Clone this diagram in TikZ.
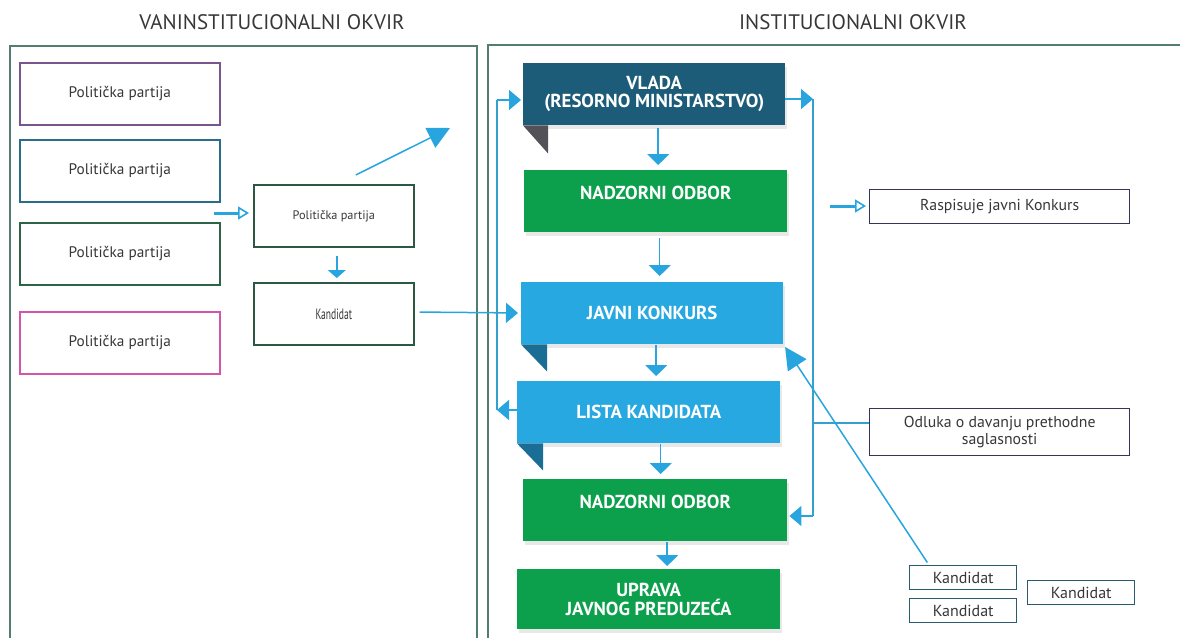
\documentclass[tikz,border=0pt]{standalone}
\usepackage{fontspec}
\setmainfont{PT Sans}
\usetikzlibrary{arrows.meta,shadows,calc}

\definecolor{frameC}{RGB}{82,126,110}
\definecolor{txtC}{RGB}{55,55,55}
\definecolor{purpleC}{RGB}{122,84,140}
\definecolor{tealC}{RGB}{42,108,140}
\definecolor{greenC}{RGB}{44,100,72}
\definecolor{magC}{RGB}{212,84,172}
\definecolor{midC}{RGB}{44,88,68}
\definecolor{arrowC}{RGB}{40,165,222}
\definecolor{lineC}{RGB}{52,160,204}
\definecolor{vladaC}{RGB}{28,92,120}
\definecolor{foldGray}{RGB}{82,82,88}
\definecolor{okGreen}{RGB}{12,160,76}
\definecolor{skyC}{RGB}{40,168,224}
\definecolor{foldBlue}{RGB}{26,110,150}
\definecolor{navyC}{RGB}{52,52,92}
\definecolor{candC}{RGB}{40,90,112}

\begin{document}
\begin{tikzpicture}[x=1pt,y=-1pt,
  frame/.style={draw=frameC,line width=1.5pt},
  heading/.style={text=txtC,font=\fontsize{21}{23}\selectfont,inner sep=0pt},
  party/.style={draw,line width=1.6pt,fill=white,minimum width=200pt,minimum height=62pt,
    anchor=north west,inner sep=0pt,text=txtC,font=\fontsize{15.3}{18}\selectfont},
  midbox/.style={draw=midC,line width=1.6pt,minimum width=160pt,minimum height=62pt,
    anchor=north west,inner sep=0pt,text=txtC},
  banner/.style={minimum width=262pt,minimum height=62pt,anchor=north west,inner sep=0pt,
    text=white,align=center,font=\bfseries\fontsize{18.8}{20}\selectfont,
    drop shadow={opacity=0.18,shadow xshift=1.5pt,shadow yshift=-4pt}},
  infobox/.style={draw=navyC,line width=1.4pt,minimum width=260pt,anchor=north west,
    inner sep=0pt,text=txtC,align=center,font=\fontsize{15.8}{19}\selectfont},
  candbox/.style={draw=candC,line width=1.4pt,minimum width=107pt,minimum height=24pt,
    anchor=north west,inner sep=0pt,text=txtC,font=\fontsize{16}{17}\selectfont},
  flowS/.style={draw=arrowC,line width=1.5pt,-{Triangle[width=22pt,length=11pt]}},
  flowL/.style={draw=arrowC,line width=1.5pt,-{Triangle[width=20pt,length=12pt]}},
  flowBig/.style={draw=arrowC,line width=1.5pt,-{Triangle[width=22pt,length=22pt]}},
  link/.style={draw=lineC,line width=1.3pt},
  hollow/.style={draw=arrowC,line width=3pt,
    -{Triangle[open,width=13pt,length=11pt,line width=1.6pt]}}
]
\useasboundingbox (0,0) rectangle (1180,637);

% headings and the two frames
\node[heading] (h1) at (272,22) {VANINSTITUCIONALNI OKVIR};
\node[heading] (h2) at (853,22) {INSTITUCIONALNI OKVIR};
\draw[frame] (10,660) -- (10,46) -- (477,46) -- (477,660);
\draw[frame] (488,660) -- (488,45) -- (1200,45);

% parties outside the institutions
\node[party,draw=purpleC] (p1) at (19,62)  {Politička partija};
\node[party,draw=tealC]   (p2) at (19,139) {Politička partija};
\node[party,draw=greenC]  (p3) at (19,222) {Politička partija};
\node[party,draw=magC]    (p4) at (19,311) {Politička partija};

\node[midbox,font=\fontsize{12.3}{15}\selectfont] (pp) at (253,184) {Politička partija};
\node[midbox,font=\fontsize{15}{17}\selectfont] (kand) at (253,282)
  {\addfontfeatures{FakeStretch=0.64}Kandidat};

\coordinate (inPP) at (214,213);
\coordinate (up) at (450,128);
\draw[hollow,shorten >=4pt] (inPP) -- (pp.west |- inPP);
\draw[flowBig] ($(pp.north)+(22,-9)$) -- (up);
\draw[draw=arrowC,line width=1.5pt,-{Triangle[width=18pt,length=8pt]},
  shorten <=8pt,shorten >=4pt] ([xshift=3pt]pp.south) -- ([xshift=3pt]kand.north);

% institutional chain
\node[banner,fill=vladaC] (vlada) at (523,63) {VLADA\\[-2pt](RESORNO MINISTARSTVO)};
\node[banner,fill=okGreen,minimum width=263pt,text depth=16pt] (no1) at (524,170) {NADZORNI ODBOR};
\node[banner,fill=skyC] (javni) at (521,282) {JAVNI KONKURS};
\node[banner,fill=skyC,minimum width=263pt] (lista) at (517,381) {LISTA KANDIDATA};
\node[banner,fill=okGreen,minimum width=264pt,text depth=16pt] (no2) at (523,479) {NADZORNI ODBOR};
\node[banner,fill=okGreen,minimum width=263pt,minimum height=60pt] (uprava) at (517,569)
  {UPRAVA\\[-1pt]JAVNOG PREDUZEĆA};

% folded corners under the banners
\fill[foldGray] (vlada.south west) -- ++(25,0) -- ++(0,28) -- cycle;
\fill[foldBlue] (javni.south west) -- ++(26,0) -- ++(0,27) -- cycle;
\fill[foldBlue] (lista.south west) -- ++(26,0) -- ++(0,27) -- cycle;

% downward flow
\draw[flowS,shorten <=3pt,shorten >=5pt] ([xshift=4pt]vlada.south) -- ([xshift=4pt]vlada.south |- no1.north);
\draw[flowS,shorten <=6pt,shorten >=6pt] ([xshift=4pt]no1.south) -- ([xshift=4pt]no1.south |- javni.north);
\draw[flowS,shorten <=1pt,shorten >=5pt] ([xshift=4pt]javni.south) -- ([xshift=4pt]javni.south |- lista.north);
\draw[flowS,shorten <=1pt,shorten >=5pt] ([xshift=12pt]lista.south) -- ([xshift=12pt]lista.south |- no2.north);
\draw[flowS,shorten <=1pt,shorten >=3pt] ([xshift=12pt]no2.south) -- ([xshift=12pt]no2.south |- uprava.north);

% loop on the left: list back to the government
\coordinate (lt) at (497,100);
\coordinate (lb) at (497,410);
\draw[flowL] (lista.west |- lb) -- (lb);
\draw[link] (lb) -- (lt);
\draw[flowL,shorten >=2pt] (lt) -- (vlada.west |- lt);

% candidate applies to the public competition
\draw[flowL,shorten <=5pt,shorten >=3pt] (kand.east |- 0,312) -- (javni.west |- 0,313);

% loop on the right: government to the supervisory board
\coordinate (rt) at (813,99);
\coordinate (rb) at (813,516);
\coordinate (ro) at (813,423);
\draw[flowL] (vlada.east |- rt) -- (rt);
\draw[link] (rt) -- (rb);
\draw[flowL,shorten >=2pt] (rb) -- (no2.east |- rb);

% notes on the right
\node[infobox,minimum height=34pt] (rasp) at (869,189) {Raspisuje javni Konkurs};
\node[infobox,minimum height=47pt] (odl) at (869,408) {Odluka o davanju prethodne\\[-2pt]saglasnosti};
\coordinate (inR) at (830,206);
\draw[hollow,shorten >=3pt] (inR) -- (rasp.west |- inR);
\draw[link] (ro) -- (odl.west |- ro);

% candidates
\node[candbox] (k1) at (909,565) {Kandidat};
\node[candbox] (k2) at (909,598) {Kandidat};
\node[candbox] (k3) at (1027,580) {Kandidat};
\draw[flowBig,shorten <=3pt,shorten >=3pt] ($(k1.north west)+(20,0)$) -- (javni.south east);
\end{tikzpicture}
\end{document}
